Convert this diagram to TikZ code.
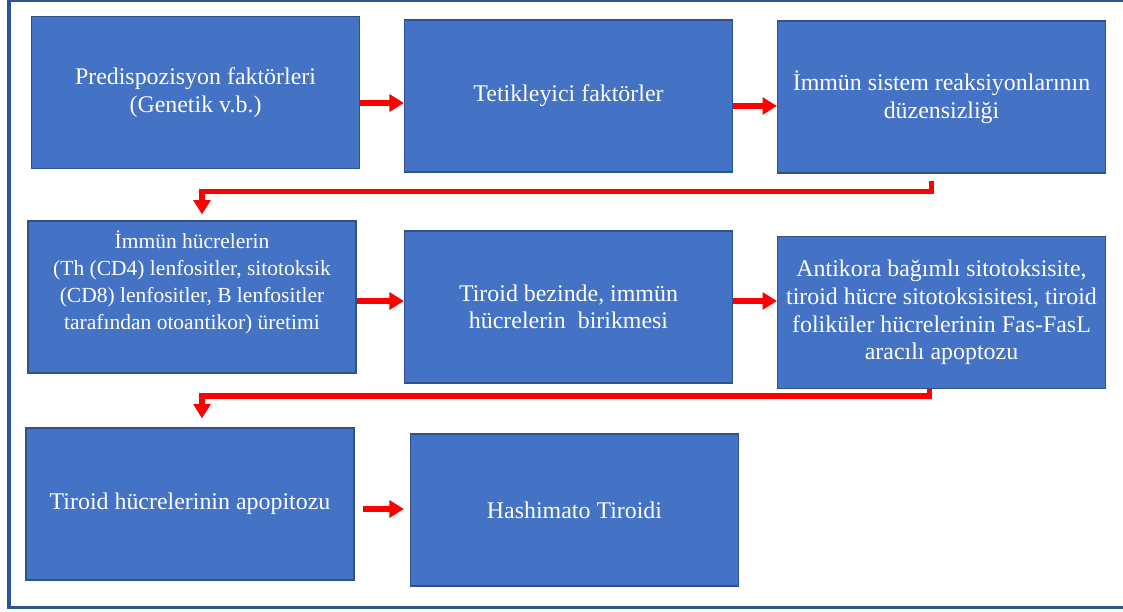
\documentclass[tikz,border=0pt]{standalone}
\usepackage{fontspec}
\setmainfont{Liberation Serif}
\usetikzlibrary{arrows.meta}

\definecolor{boxblue}{HTML}{4472C4}
\definecolor{boxedge}{HTML}{2F528F}
\definecolor{framecol}{HTML}{2F5597}

\tikzset{
    stage/.style={draw=boxedge, line width=0.8pt, fill=boxblue, text=white, align=center,
        minimum width=8.2cm, minimum height=3.8cm, inner sep=0pt,
        font=\fontsize{17}{19.6}\selectfont},
    flow/.style={draw=red, line width=0.13cm, -{Triangle[width=0.42cm,length=0.36cm]}}
}

\begin{document}
\begin{tikzpicture}[x=0.025cm,y=-0.025cm]
            \useasboundingbox (0,0) rectangle (1123,611);
            \draw[framecol, line width=0.075cm] (1130,1) -- (9,1) -- (9,607) -- (1130,607);

            \node[stage] (predisp) at (195.5,92.5) {Predispozisyon faktörleri\\(Genetik v.b.)};
            \node[stage] (tetik) at (568.5,96) {Tetikleyici faktörler};
            \node[stage] (immun) at (941.5,97) {İmmün sistem reaksiyonlarının\\düzensizliği};

            \node[stage, font=\fontsize{15.3}{19.2}\selectfont] (hucre) at (192,297) {İmmün hücrelerin\\ (Th (CD4) lenfositler, sitotoksik\\(CD8) lenfositler, B lenfositler\\tarafından otoantikor) üretimi\\[5pt]};
            \node[stage] (birikim) at (568.5,307) {Tiroid bezinde, immün\\hücrelerin~ birikmesi};
            \node[stage] (apopt) at (941.5,312.5) {Antikora bağımlı sitotoksisite,\\tiroid hücre sitotoksisitesi, tiroid\\foliküler hücrelerinin Fas-FasL\\aracılı apoptozu};

            \node[stage] (tiroidap) at (190,504) {Tiroid hücrelerinin apopitozu};
            \node[stage] (hashimoto) at (574.5,510) {Hashimato Tiroidi};

            \draw[flow] (predisp.east |- 0,103) -- (tetik.west |- 0,103);
            \draw[flow] (tetik.east |- 0,106) -- (immun.west |- 0,106);
            \draw[flow] (hucre.east |- 0,301) -- (birikim.west |- 0,301);
            \draw[flow] (birikim.east |- 0,301) -- (apopt.west |- 0,301);
            \draw[flow] ([xshift=0.2cm]tiroidap.east |- 0,509) -- ([xshift=-0.15cm]hashimoto.west |- 0,509);

            \coordinate (s1) at ([shift={(-10,7)}]immun.south);
            \coordinate (t1) at ([shift={(10,-6)}]hucre.north);
            \draw[flow] (s1) -- ++(0,11) -| (t1);

            \coordinate (s2) at ([shift={(-12,0)}]apopt.south);
            \coordinate (t2) at ([shift={(12,-9)}]tiroidap.north);
            \draw[flow] (s2) -- ++(0,7) -| (t2);
        \end{tikzpicture}
\end{document}
